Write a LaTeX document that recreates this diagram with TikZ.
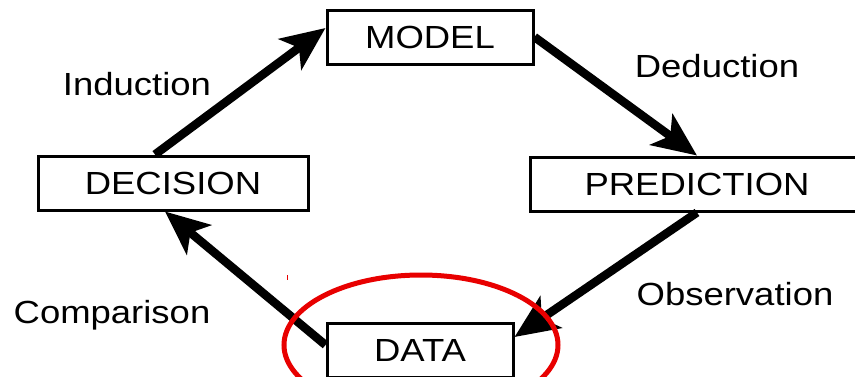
\documentclass[tikz,border=0pt]{standalone}
\usepackage{fontspec}
\setmainfont{Liberation Sans}[FakeStretch=1.14]
\usetikzlibrary{arrows.meta}
\definecolor{markred}{RGB}{232,0,0}

\begin{document}
\begin{tikzpicture}[x=1pt,y=-1pt,
    box/.style={draw,line width=3pt,minimum height=54pt,inner sep=0pt,
      font=\fontsize{32}{38}\selectfont},
    lbl/.style={anchor=base,font=\fontsize{32}{38}\selectfont},
    flow/.style={line width=8.5pt,-{Stealth[length=44pt,width=38pt,inset=11pt]}}]
    \useasboundingbox (0,0) rectangle (855,376);
    % boxes
    \node [box,minimum width=206pt] (model) at (430,37) {MODEL};
    \node [box,minimum width=270pt] (decision) at (173,183) {DECISION};
    \node [box,minimum width=334pt] (prediction) at (697,184) {PREDICTION};
    \node [box,minimum width=186pt] (data) at (420,350) {DATA};
    % cycle
    \draw [flow] ([xshift=-18pt]decision.north) -- ([yshift=9pt]model.west);
    \draw [flow] (model.east) -- (prediction.north);
    \draw [flow] (prediction.south) -- ([yshift=13pt]data.east);
    \draw [flow] ([yshift=5pt]data.west) -- ([xshift=-8pt]decision.south);
    \node [lbl] (induction) at (137,95) {Induction};
    \node [lbl] (deduction) at (717,77) {Deduction};
    \node [lbl] (observation) at (735,305) {Observation};
    \node [lbl] (comparison) at (112,323) {Comparison};
    % red mark
    \draw [markred,line width=5pt] (421,345) ellipse [x radius=137pt,y radius=70pt];
    \draw [markred,line width=1pt] (287,275) -- (287,280);
\end{tikzpicture}
\end{document}
